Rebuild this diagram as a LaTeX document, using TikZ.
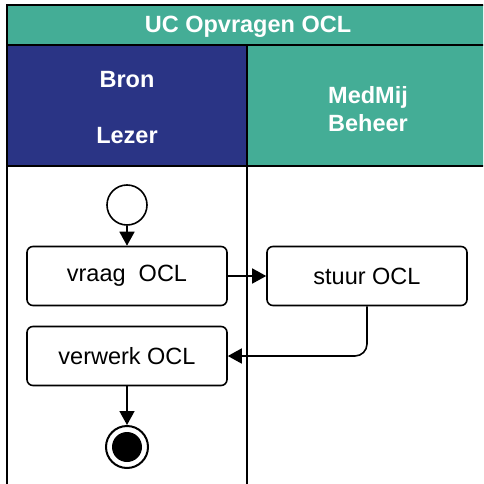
\documentclass[tikz,border=0pt]{standalone}
\usepackage{fontspec}
\setmainfont{Liberation Sans}
\usetikzlibrary{arrows.meta}

\definecolor{laneteal}{RGB}{68,173,150}
\definecolor{laneblue}{RGB}{42,52,133}

\tikzset{
	headtext/.style={text=white, align=center, font=\fontsize{23.5}{28}\selectfont\bfseries},
	laneline/.style={line width=1.5pt},
	actbox/.style={draw, line width=1.6pt, rounded corners=6pt, minimum width=200pt, minimum height=59pt, font=\fontsize{23.5}{28}\selectfont},
	flow/.style={line width=1.6pt, -{Triangle[length=14pt,width=15pt]}},
	startstate/.style={circle, draw, line width=1.6pt, minimum size=40pt, inner sep=0pt},
	endstate/.style={circle, draw, line width=2pt, minimum size=42pt, inner sep=0pt,
		path picture={\fill (path picture bounding box.center) circle (15pt);}},
}

\begin{document}
\begin{tikzpicture}[x=1pt, y=-1pt]
		\useasboundingbox (0,0) rectangle (483,484);
		\clip (0,0) rectangle (483,484);
		\fill[laneteal] (7,5) rectangle (489,45);
		\fill[laneblue] (7,45) rectangle (247,166);
		\fill[laneteal] (247,45) rectangle (489,166);
		\draw[laneline] (7,490) -- (7,5) -- (489,5);
		\draw[laneline] (7,45) -- (489,45);
		\draw[laneline] (7,166) -- (489,166);
		\draw[laneline] (247,45) -- (247,490);
		\node[headtext] (titel) at (248,27) {UC Opvragen OCL};
		\node[headtext] (bronlezer) at (127,108) {Bron\\[28pt]Lezer};
		\node[headtext] (medmij) at (368,109) {MedMij\\Beheer};
		\node[startstate] (start) at (127,205) {};
		\node[actbox] (vraag) at (127,276) {vraag\ \ OCL};
		\node[actbox] (stuur) at (367,276) {stuur OCL};
		\node[actbox] (verwerk) at (127,356) {verwerk OCL};
		\node[endstate] (eind) at (127,447) {};
		\draw[flow] (start) -- (vraag);
		\draw[flow] (vraag) -- (stuur);
		\draw[flow, rounded corners=12pt] (stuur.south) |- (verwerk.east);
		\draw[flow] (verwerk) -- (eind);
	\end{tikzpicture}
\end{document}
